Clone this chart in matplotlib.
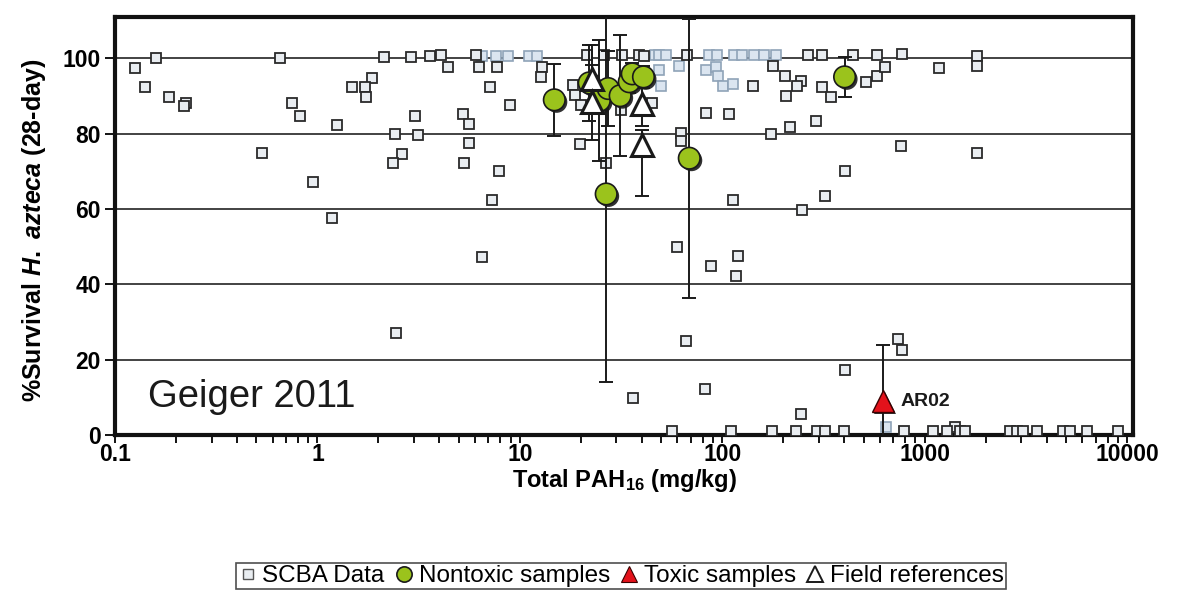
import matplotlib
matplotlib.use('Agg')
import matplotlib.pyplot as plt
import matplotlib.patheffects as pe
from matplotlib.lines import Line2D
from matplotlib.ticker import FixedLocator, LogLocator, NullFormatter

plt.rcParams['font.family'] = ['Liberation Sans', 'DejaVu Sans']
plt.rcParams['mathtext.fontset'] = 'custom'
plt.rcParams['mathtext.rm'] = 'Liberation Sans:bold'
plt.rcParams['mathtext.it'] = 'Liberation Sans:italic:bold'
plt.rcParams['mathtext.bf'] = 'Liberation Sans:bold'

# ---------------- data ----------------
# SCBA data (dark outlined squares)
scba_x = [0.16, 0.65, 2.14, 2.9, 3.58, 4.1, 6.1, 21.5, 26.1, 32.1, 38.9, 41.2, 67.2,
          264, 312, 440, 578, 776, 1803,
          0.126, 0.141, 0.185, 0.224, 0.219, 0.75, 0.82, 1.25, 0.53, 0.95, 1.18, 6.5,
          2.45, 4.4, 6.3, 7.1, 7.7, 1.86, 1.49, 1.72, 1.74, 3.03, 2.42, 3.14, 2.63,
          2.35, 5.26, 5.6, 5.6, 5.28, 7.9, 7.3,
          12.9, 12.7, 8.9, 18.4, 18.8, 20.0, 19.9, 26.5, 31.7, 45,
          142, 178, 205, 246, 235, 207, 312, 346, 515, 578, 633, 1183, 1803,
          83.4, 108, 292, 215, 175, 62.8, 62.8, 767, 1803, 402, 320, 249, 113,
          60, 120, 88, 117, 66.4, 82, 36.4, 246, 735, 776, 405, 1419,
          56.6, 111, 177, 232, 295, 323, 397, 794, 1093, 1282, 1486, 1574,
          2626, 2843, 3044, 3571, 4801, 5198, 6310, 8977]
scba_y = [100.0, 100.2, 100.4, 100.4, 100.6, 100.8, 100.8, 100.8, 100.8, 100.8, 100.8, 100.6, 100.8,
          101.0, 101.0, 101.0, 101.0, 101.2, 100.6,
          97.4, 92.5, 89.8, 88.2, 87.4, 88.2, 84.8, 82.3, 74.8, 67.2, 57.5, 47.3,
          27.1, 97.6, 97.6, 92.5, 97.6, 94.8, 92.3, 92.3, 89.7, 84.8, 79.8, 79.7, 74.7,
          72.1, 85.2, 82.5, 77.5, 72.2, 70.0, 62.4,
          97.7, 95.1, 87.7, 92.9, 90.2, 87.5, 77.4, 72.2, 86.4, 88.2,
          92.8, 97.9, 95.3, 93.9, 92.6, 89.9, 92.5, 89.8, 93.8, 95.2, 97.7, 97.5, 97.9,
          85.4, 85.3, 83.3, 81.8, 79.9, 80.2, 78.0, 76.8, 75.0, 70.0, 63.4, 59.8, 62.3,
          50.0, 47.5, 44.9, 42.3, 24.9, 12.2, 9.7, 5.5, 25.4, 22.5, 17.3, 2.0,
          1.0, 1.0, 1.0, 1.0, 1.0, 1.0, 1.0, 1.0, 1.0, 1.0, 1.0, 1.0,
          1.0, 1.0, 1.0, 1.0, 1.0, 1.0, 1.0, 1.0]

# SCBA data (light, bluish squares in dense clusters)
scba_light_x = [6.5, 7.6, 8.7, 11.1, 12.2, 46.3, 48.9, 52.9, 86.3, 94.6, 114.8, 125.7,
                144, 161, 185, 48.8, 50, 61.4, 83.4, 93.5, 95.7, 101, 113, 647]
scba_light_y = [100.6, 100.6, 100.6, 100.6, 100.6, 100.8, 100.8, 100.8, 101.0, 101.0, 101.0, 101.0,
                101.0, 101.0, 101.0, 96.9, 92.7, 97.9, 96.8, 97.8, 95.2, 92.8, 93.3, 2.2]

# Nontoxic samples (mean +/- error)
nontox_x = [14.8, 22.0, 24.7, 26.7, 27.3, 31.3, 34.7, 35.9, 40.8, 68.7, 402]
nontox_y = [89.0, 93.5, 88.8, 64.0, 92.0, 90.1, 93.8, 95.9, 95.1, 73.5, 95.1]
nontox_err = [9.5, 10, 16, 50, 10, 16, 3, 3, 3, 37, 5.3]

# Field references
field_x = [22.8, 22.8, 40.3, 40.3]
field_y = [94.6, 88.3, 88.0, 77.0]
field_err_lo = [9, 10, 6, 13.5]
field_err_hi = [9, 10, 6, 4]

# Toxic samples
tox_x = [620]
tox_y = [9.0]
tox_err = [15]
tox_labels = ['AR02']

x_ticks = [0.1, 1, 10, 100, 1000, 10000]
x_ticklabels = ['0.1', '1', '10', '100', '1000', '10000']
y_ticks = [0, 20, 40, 60, 80, 100]
y_ticklabels = ['0', '20', '40', '60', '80', '100']

# ---------------- figure ----------------
fig = plt.figure(figsize=(11.77, 5.94), dpi=100)
ax = fig.add_axes([0.0977, 0.2677, 0.865, 0.7037])
ax.set_xscale('log')
ax.set_xlim(0.1, 10700)
ax.set_ylim(0, 111)

for s in ax.spines.values():
    s.set_linewidth(3)
    s.set_color('#111111')

ax.yaxis.set_major_locator(FixedLocator(y_ticks))
ax.set_yticklabels(y_ticklabels, fontsize=16.5, fontweight='bold')
ax.xaxis.set_major_locator(FixedLocator(x_ticks))
ax.set_xticklabels(x_ticklabels, fontsize=16.5, fontweight='bold')
ax.xaxis.set_minor_locator(LogLocator(base=10, subs=range(2, 10), numticks=20))
ax.xaxis.set_minor_formatter(NullFormatter())
ax.tick_params(axis='y', direction='out', length=7, width=1.3, pad=3)
ax.tick_params(axis='x', which='both', direction='out', length=6, width=1.3, pad=0)
ax.yaxis.grid(True, color='#222222', linewidth=1.2)
ax.set_axisbelow(True)

# SCBA squares
ax.plot(scba_light_x, scba_light_y, linestyle='none', marker='s', markersize=7.5,
        markerfacecolor='#dbe5f0', markeredgecolor='#8fa3b8', markeredgewidth=1.2, zorder=3)
ax.plot(scba_x, scba_y, linestyle='none', marker='s', markersize=7.5,
        markerfacecolor='#e9edf1', markeredgecolor='#2a2a2a', markeredgewidth=1.3, zorder=3)

shadow = [pe.SimplePatchShadow(offset=(1.6, -1.6), shadow_rgbFace='#1a1a1a', alpha=0.9), pe.Normal()]

# Nontoxic samples
ax.errorbar(nontox_x, nontox_y, yerr=nontox_err, fmt='none', ecolor='#1a1a1a',
            elinewidth=1.4, capsize=5, capthick=1.4, zorder=4)
ax.plot(nontox_x, nontox_y, linestyle='none', marker='o', markersize=15.5,
        markerfacecolor='#9bc31c', markeredgecolor='#1a1a1a', markeredgewidth=1.2,
        zorder=5, path_effects=shadow)

# Field references
ax.errorbar(field_x, field_y, yerr=[field_err_lo, field_err_hi], fmt='none', ecolor='#1a1a1a',
            elinewidth=1.4, capsize=5, capthick=1.4, zorder=4)
ax.plot(field_x, field_y, linestyle='none', marker='^', markersize=15.5,
        markerfacecolor='white', markeredgecolor='#1a1a1a', markeredgewidth=2.2, zorder=6)

# Toxic samples
ax.errorbar(tox_x, tox_y, yerr=tox_err, fmt='none', ecolor='#1a1a1a',
            elinewidth=1.4, capsize=5, capthick=1.4, zorder=4)
ax.plot(tox_x, tox_y, linestyle='none', marker='^', markersize=16,
        markerfacecolor='#e3121b', markeredgecolor='#3a0000', markeredgewidth=1.0,
        zorder=7, path_effects=shadow)
for x, y, lab in zip(tox_x, tox_y, tox_labels):
    ax.annotate(lab, (x, y), xytext=(13, 0), textcoords='offset points',
                fontsize=14, fontweight='bold', va='center', ha='left', color='#1a1a1a')

ax.text(0.032, 0.092, 'Geiger 2011', transform=ax.transAxes, fontsize=27.5,
        va='center', ha='left', color='#1a1a1a')

ax.set_ylabel(r'%Survival $\mathit{H.\ azteca}$ (28-day)', fontsize=18, fontweight='bold')
ax.yaxis.set_label_coords(-0.066, 0.49)
ax.set_xlabel(r'Total PAH$_{16}$ (mg/kg)', fontsize=17, fontweight='bold')
ax.xaxis.set_label_coords(0.5, -0.077)

handles = [
    Line2D([], [], linestyle='none', marker='s', markersize=7.5, markerfacecolor='#e9edf1',
           markeredgecolor='#555555', markeredgewidth=1.0),
    Line2D([], [], linestyle='none', marker='o', markersize=11, markerfacecolor='#9bc31c',
           markeredgecolor='#1a1a1a', markeredgewidth=1.2),
    Line2D([], [], linestyle='none', marker='^', markersize=12, markerfacecolor='#e3121b',
           markeredgecolor='#3a0000', markeredgewidth=0.8),
    Line2D([], [], linestyle='none', marker='^', markersize=12, markerfacecolor='white',
           markeredgecolor='#1a1a1a', markeredgewidth=1.4),
]
labels = ['SCBA Data', 'Nontoxic samples', 'Toxic samples', 'Field references']
leg = fig.legend(handles, labels, loc='center', bbox_to_anchor=(0.5276, 0.0303), ncol=4,
                 frameon=True, fancybox=False, edgecolor='#222222', fontsize=17.5,
                 handlelength=0.8, handletextpad=0.2, columnspacing=0.4, borderpad=0.1,
                 borderaxespad=0)
leg.get_frame().set_linewidth(1.2)

fig.savefig('out.png', dpi=100)
